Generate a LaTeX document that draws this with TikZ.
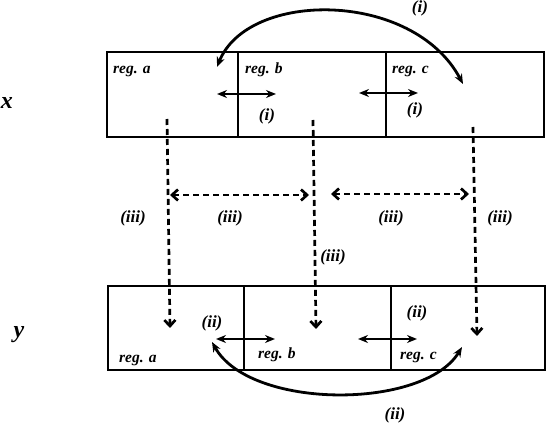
\documentclass[tikz,border=0pt]{standalone}
\usepackage{fontspec}
\setmainfont{Liberation Serif}
\usetikzlibrary{arrows.meta}
\begin{document}
\begin{tikzpicture}[x=1pt,y=-1pt,
  region/.style={draw,line width=1.4pt,inner sep=0pt,outer sep=0pt},
  lbl/.style={font=\fontsize{17}{17}\selectfont\bfseries\itshape,inner sep=0pt},
  reglbl/.style={font=\fontsize{15.5}{15.5}\selectfont\bfseries\itshape,inner sep=0pt,anchor=base west},
  varlbl/.style={font=\fontsize{24}{24}\selectfont\bfseries\itshape,inner sep=0pt},
  solidarr/.style={line width=2.8pt,{Stealth[length=10pt,width=8pt]}-{Stealth[length=10pt,width=8pt]}},
  dasharr/.style={line width=2.7pt,dash pattern=on 6pt off 4pt,-{Straight Barb[length=6pt,width=11pt,line width=2.7pt]}},
  dashdbl/.style={line width=2.7pt,dash pattern=on 6pt off 4pt,{Straight Barb[length=6pt,width=11pt,line width=2.7pt]}-{Straight Barb[length=6pt,width=11pt,line width=2.7pt]}}
]
\useasboundingbox (0,0) rectangle (550,430);
% top boxes
\node[region,minimum width=131pt,minimum height=85pt] (ta) at (172.5,94.5) {};
\node[region,minimum width=148pt,minimum height=85pt] (tb) at (312,94.5) {};
\node[region,minimum width=158pt,minimum height=85pt] (tc) at (465,94.5) {};
% bottom boxes
\node[region,minimum width=136pt,minimum height=84pt] (ba) at (176,328) {};
\node[region,minimum width=147pt,minimum height=84pt] (bb) at (317.5,328) {};
\node[region,minimum width=154pt,minimum height=84pt] (bc) at (468,328) {};
% labels
\node[varlbl] (lx) at (7,103) {x};
\node[varlbl] (ly) at (19,335) {y};
\node[reglbl] (rta) at (113,74) {reg. a};
\node[reglbl] (rtb) at (245,74) {reg. b};
\node[reglbl] (rtc) at (392,74) {reg. c};
\node[reglbl] (rba) at (119,363) {reg. a};
\node[reglbl] (rbb) at (258,359) {reg. b};
\node[reglbl] (rbc) at (400,360) {reg. c};
% coordinates
\coordinate (c1s) at (217,67); \coordinate (c1e) at (463,84);
\coordinate (c2s) at (212,342); \coordinate (c2e) at (462,347);
\coordinate (h1a) at (217,94); \coordinate (h1b) at (276,94);
\coordinate (h2a) at (359,93); \coordinate (h2b) at (418,93);
\coordinate (h3a) at (216,339); \coordinate (h3b) at (275,339);
\coordinate (h4a) at (358,339); \coordinate (h4b) at (417,339);
\coordinate (v1a) at (167,119); \coordinate (v1b) at (170,328);
\coordinate (v2a) at (313,120); \coordinate (v2b) at (316,329);
\coordinate (v3a) at (473,127); \coordinate (v3b) at (477,336);
\coordinate (d1a) at (170,195); \coordinate (d1b) at (309,195);
\coordinate (d2a) at (331,194); \coordinate (d2b) at (469,194);
% solid arrows
\draw[solidarr] (c1s) .. controls (248,-10) and (413,-10) .. (c1e);
\draw[solidarr] (c2s) .. controls (250,410) and (424,410) .. (c2e);
\draw[solidarr] (h1a) -- (h1b);
\draw[solidarr] (h2a) -- (h2b);
\draw[solidarr] (h3a) -- (h3b);
\draw[solidarr] (h4a) -- (h4b);
% dashed arrows
\draw[dasharr] (v1a) -- (v1b);
\draw[dasharr] (v2a) -- (v2b);
\draw[dasharr] (v3a) -- (v3b);
\draw[dashdbl] (d1a) -- (d1b);
\draw[dashdbl] (d2a) -- (d2b);
% arrow labels
\node[lbl] (li0) at (420,8) {(i)};
\node[lbl] (li1) at (267,116) {(i)};
\node[lbl] (li2) at (415,110) {(i)};
\node[lbl] (lii1) at (212,323) {(ii)};
\node[lbl] (lii2) at (417,313) {(ii)};
\node[lbl] (lii3) at (395,415) {(ii)};
\node[lbl] (liii1) at (133,218) {(iii)};
\node[lbl] (liii2) at (230,218) {(iii)};
\node[lbl] (liii3) at (391,218) {(iii)};
\node[lbl] (liii4) at (500,218) {(iii)};
\node[lbl] (liii5) at (333,257) {(iii)};
\end{tikzpicture}
\end{document}
